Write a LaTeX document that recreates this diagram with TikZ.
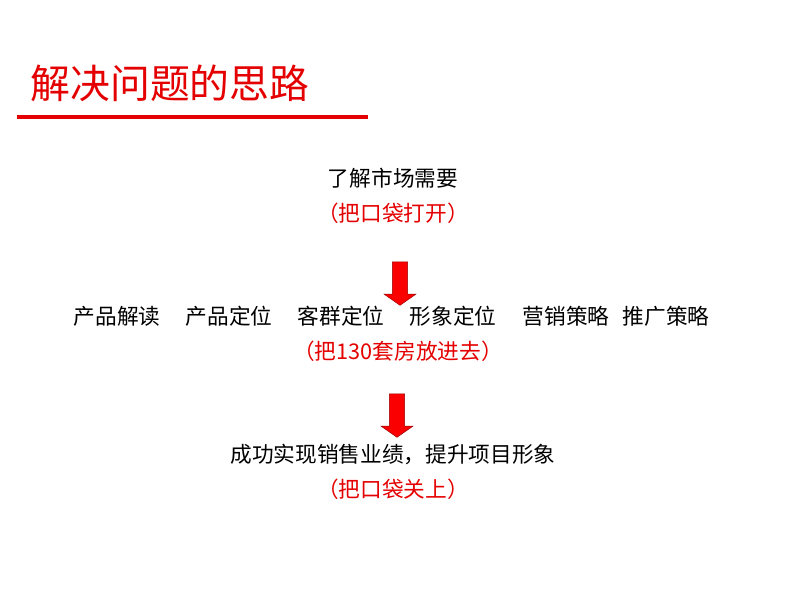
\documentclass[tikz,border=0pt]{standalone}
\usepackage{fontspec}
\newfontfamily\cjk{Noto Sans CJK SC}
\usetikzlibrary{shapes.arrows,positioning}
\definecolor{titlered}{RGB}{228,0,0}
\definecolor{arrowred}{RGB}{250,0,0}
\definecolor{arrowedge}{RGB}{150,0,0}
\begin{document}
\begin{tikzpicture}[
  x=0.03cm, y=-0.03cm,
  txt/.style={inner sep=0pt, font=\cjk\fontsize{18.5}{20}\selectfont},
  note/.style={txt, text=titlered},
  bigarrow/.style={single arrow, shape border rotate=270, draw=arrowedge, fill=arrowred,
    inner sep=0.22cm, minimum height=1.3cm, single arrow head extend=0.25cm,
    single arrow tip angle=110},
  node distance=1.05cm
]
\useasboundingbox (0,0) rectangle (800,600);
% title
\node[inner sep=0pt, text=titlered, font=\cjk\fontsize{34}{36}\selectfont] (title) at (170,83) {解决问题的思路};
\coordinate (rulel) at (17,117);
\coordinate (ruler) at (368,117);
\draw[titlered, line width=2.6pt] (rulel) -- (ruler);

\node[txt] (need) at (393,178) {了解市场需要};
\node[note, below of=need] (open) {（把口袋打开）};

\node[txt] (read) at (117,316) {产品解读};
\node[txt] (prod) at (229,316) {产品定位};
\node[txt] (cust) at (341,316) {客群定位};
\node[txt] (image) at (453,316) {形象定位};
\node[txt] (sales) at (566,316) {营销策略};
\node[txt] (promo) at (666,316) {推广策略};
\node[note] (putin) at (398,351) {（把130套房放进去）};

\node[txt] (goal) at (393,454) {成功实现销售业绩，提升项目形象};
\node[note, below of=goal] (close) {（把口袋关上）};

\node[bigarrow] (down1) at (400,281) {};
\node[bigarrow] (down2) at (397,413) {};
\end{tikzpicture}
\end{document}
